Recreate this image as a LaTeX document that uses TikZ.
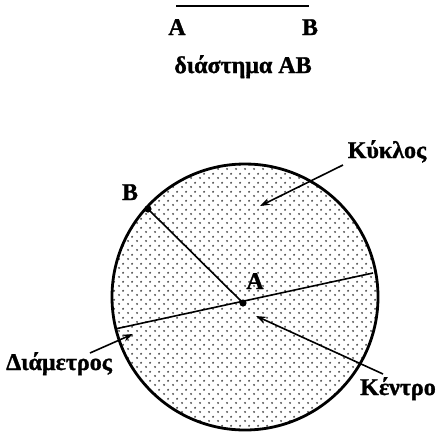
\documentclass[tikz,border=0pt]{standalone}
\usepackage{fontspec}
\setmainfont{Liberation Serif}[BoldFeatures={FakeBold=1.2}]
\usetikzlibrary{arrows.meta,patterns.meta}
\tikzdeclarepattern{name=mydots,type=uncolored,bounding box={(0pt,0pt) and (9pt,8.6pt)},tile size={(9pt,8.6pt)},
  code={\fill (2.25pt,2.15pt) circle (1.15pt); \fill (6.75pt,6.45pt) circle (1.15pt);}}
\tikzset{
  lbl/.style={font=\fontsize{24}{28}\selectfont\bfseries, inner sep=0pt, anchor=base},
  seg/.style={line width=1.6pt},
  pointer/.style={line width=1.6pt, -{Stealth[length=10pt,width=7pt]}},
}
\begin{document}
\begin{tikzpicture}[x=1pt,y=-1pt]
\useasboundingbox (0,0) rectangle (437,440);
% top segment
\coordinate (TA) at (176,6);
\coordinate (TB) at (309,6);
\draw[seg] (TA) -- (TB);
\node[lbl] (la) at (177,35) {A};
\node[lbl] (lb) at (310,35) {B};
\node[lbl] (title) at (243,73) {διάστημα AB};
% circle
\coordinate (O) at (245,297);
\draw[line width=2.8pt, pattern={mydots}, pattern color=black!70] (O) circle (133);
\coordinate (C) at (243,303);
\coordinate (Bp) at (148,209);
\coordinate (D1) at (115,329);
\coordinate (D2) at (373,273);
\draw[seg] (Bp) -- (C);
\draw[seg] (D1) -- (D2);
\fill (C) circle (3.6);
\fill (Bp) circle (3.6);
\node[lbl] (lA) at (255,289) {A};
\node[lbl] (lB) at (130,200) {B};
% labels with arrows
\node[lbl] (kyk) at (387,158) {Κύκλος};
\node[lbl] (ken) at (398,395) {Κέντρο};
\node[lbl] (dia) at (59,370) {Διάμετρος};
\coordinate (k1) at (343,165);
\coordinate (k2) at (260,206);
\draw[pointer] (k1) -- (k2);
\coordinate (c1) at (383,374);
\coordinate (c2) at (256,316);
\draw[pointer] (c1) -- (c2);
\coordinate (d1) at (90,353);
\coordinate (d2) at (133,334);
\draw[pointer] (d1) -- (d2);
\end{tikzpicture}
\end{document}
